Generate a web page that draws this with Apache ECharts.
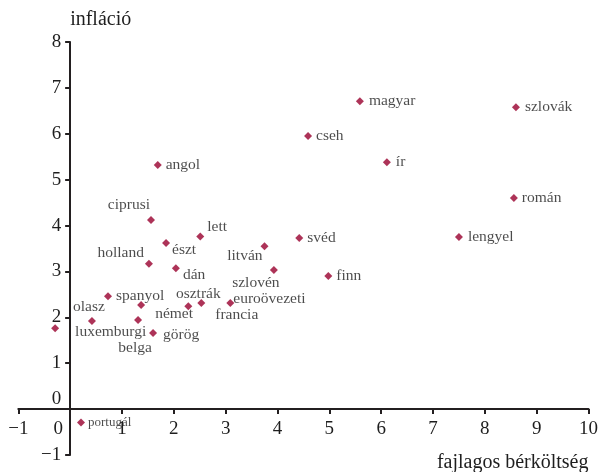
<!DOCTYPE html>
<html>
<head>
<meta charset="utf-8">
<script src="https://cdn.jsdelivr.net/npm/echarts@6/dist/echarts.min.js"></script>
<style>
  html, body { margin: 0; padding: 0; background: #ffffff; }
  #chart { width: 606px; height: 472px; }
</style>
</head>
<body>
<div id="chart"></div>
<script>
// Unit labour cost growth (x) vs. inflation (y), by country
const countries = [
  'magyar', 'szlovák', 'cseh', 'ír', 'román', 'svéd', 'lengyel', 'finn',
  'angol', 'ciprusi', 'lett', 'észt', 'holland', 'dán', 'litván', 'szlovén',
  'spanyol', 'német', 'olasz', 'luxemburgi', 'belga', 'görög', 'osztrák',
  'francia', 'euroövezeti', 'portugál'
];
const unitLabourCost = [
  5.59, 8.60, 4.59, 6.11, 8.56, 4.42, 7.50, 4.98,
  1.69, 1.56, 2.51, 1.85, 1.52, 2.04, 3.75, 3.93,
  0.73, 1.37, 0.42, -0.29, 1.31, 1.60, 2.28,
  2.53, 3.09, 0.21
];
const inflation = [
  6.71, 6.58, 5.95, 5.38, 4.60, 3.73, 3.75, 2.90,
  5.32, 4.12, 3.76, 3.62, 3.17, 3.07, 3.55, 3.03,
  2.46, 2.27, 1.92, 1.76, 1.94, 1.66, 2.24,
  2.31, 2.31, -0.29
];

// Axis ranges and tick step
const xRange = [-1, 10];
const yRange = [-1, 8];
const tickStep = 1;

// Label placement next to each marker: [text alignment, dx, dy] from the marker centre
const labelPlacement = {
  'magyar': ['left', 9, 0], 'szlovák': ['left', 9, 0], 'cseh': ['left', 8, 0],
  'ír': ['left', 9, 0], 'román': ['left', 8, 0], 'svéd': ['left', 8, 0],
  'lengyel': ['left', 9, 0], 'finn': ['left', 8, 0], 'angol': ['left', 8, 0],
  'ciprusi': ['right', -1, -15], 'lett': ['left', 7, -10], 'észt': ['left', 6, 7],
  'holland': ['right', -5, -11], 'dán': ['left', 7, 7], 'litván': ['right', -2, 10],
  'szlovén': ['center', -18, 13], 'spanyol': ['left', 8, 0], 'német': ['left', 14, 9],
  'olasz': ['center', -3, -14], 'luxemburgi': ['left', 20, 4], 'belga': ['center', -3, 28],
  'görög': ['left', 10, 2], 'osztrák': ['center', 10, -12], 'francia': ['left', 14, 12],
  'euroövezeti': ['left', 3, -4], 'portugál': ['left', 7, 0]
};

const FONT = 'Liberation Serif';
const INK = '#231f20';
const TEXT = '#1e1e1e';
const MARK = '#98002e';
const MARK_SIZE = 8;

// Plot area
const W = 606, H = 472;
const GRID = { left: 18.3, right: 17.5, top: 42, bottom: 17 };
const plotW = W - GRID.left - GRID.right;
const plotH = H - GRID.top - GRID.bottom;
// The axes cross at zero: shift each axis from the grid edge to the other axis' zero
const yAxisShift = -plotW * (0 - xRange[0]) / (xRange[1] - xRange[0]);
const xAxisShift = -plotH * (0 - yRange[0]) / (yRange[1] - yRange[0]);

const points = countries.map((name, i) => {
  const p = labelPlacement[name];
  return {
    name: name,
    value: [unitLabourCost[i], inflation[i]],
    label: {
      show: true,
      position: [MARK_SIZE / 2 + p[1], MARK_SIZE / 2 + p[2]],
      align: p[0],
      verticalAlign: 'middle',
      formatter: name,
      fontFamily: FONT,
      fontSize: name === 'portugál' ? 13 : 15.5,
      color: TEXT
    }
  };
});

const minus = v => String(v).replace('-', '\u2212');

const chart = echarts.init(document.getElementById('chart'), null, { renderer: 'canvas' });
chart.setOption({
  animation: false,
  backgroundColor: '#ffffff',
  grid: Object.assign({ containLabel: false, outerBoundsMode: 'none' }, GRID),
  xAxis: {
    type: 'value',
    min: xRange[0], max: xRange[1], interval: tickStep,
    offset: xAxisShift,
    name: 'fajlagos bérköltség',
    nameLocation: 'end',
    nameGap: 0,
    nameTextStyle: {
      fontFamily: FONT, fontSize: 20, color: TEXT,
      align: 'right', verticalAlign: 'top', padding: [44, 0, 0, 0]
    },
    axisLine: { show: true, onZero: false, lineStyle: { color: INK, width: 2 } },
    axisTick: { show: true, length: 5, lineStyle: { color: INK, width: 2 } },
    splitLine: { show: false },
    axisLabel: {
      margin: 10,
      fontFamily: FONT, fontSize: 19, color: TEXT,
      formatter: v => v === 0 ? '{z|0}' : minus(v),
      rich: { z: { fontFamily: FONT, fontSize: 19, color: TEXT, padding: [0, 24, 0, 0] } }
    }
  },
  yAxis: {
    type: 'value',
    min: yRange[0], max: yRange[1], interval: tickStep,
    offset: yAxisShift,
    name: 'infláció',
    nameLocation: 'end',
    nameGap: 12,
    nameTextStyle: {
      fontFamily: FONT, fontSize: 20, color: TEXT, align: 'left'
    },
    axisLine: { show: true, onZero: false, lineStyle: { color: INK, width: 2 } },
    axisTick: { show: true, length: 5, lineStyle: { color: INK, width: 2 } },
    splitLine: { show: false },
    axisLabel: {
      margin: 9,
      fontFamily: FONT, fontSize: 19, color: TEXT,
      formatter: v => v === 0 ? '{z|0}' : minus(v),
      rich: { z: { fontFamily: FONT, fontSize: 19, color: TEXT, padding: [0, 0, 20, 0] } }
    }
  },
  series: [{
    type: 'scatter',
    symbol: 'diamond',
    symbolSize: MARK_SIZE,
    itemStyle: { color: MARK },
    data: points
  }]
});
</script>
</body>
</html>
